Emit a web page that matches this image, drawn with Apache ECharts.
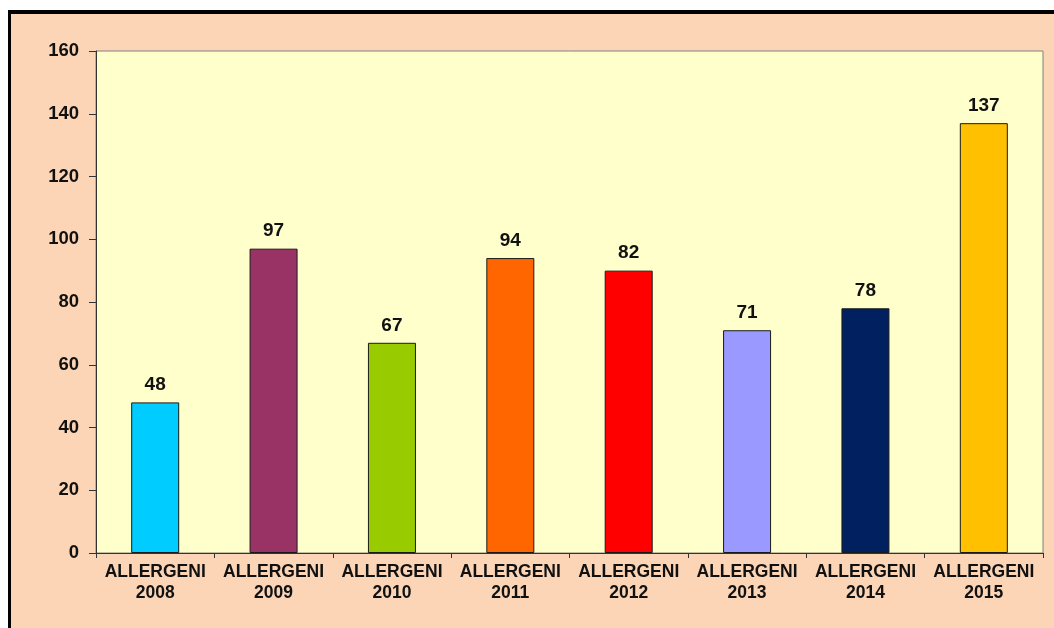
<!DOCTYPE html>
<html>
<head>
<meta charset="utf-8">
<script src="https://cdn.jsdelivr.net/npm/echarts@6/dist/echarts.min.js"></script>
<style>
    html, body { margin: 0; padding: 0; background: #fff; }
    .frame {
        position: absolute; left: 8px; top: 10px; width: 1046px; height: 618px;
        background: #FBD5B6; border-top: 4px solid #000; border-left: 3px solid #000;
        box-sizing: border-box;
    }
    #chart { position: absolute; left: 0; top: 0; width: 1054px; height: 628px; }
</style>
</head>
<body>
<div class="frame"></div>
<div id="chart"></div>
<script>
// categorie e valori
const categories = ['ALLERGENI\n2008', 'ALLERGENI\n2009', 'ALLERGENI\n2010', 'ALLERGENI\n2011',
    'ALLERGENI\n2012', 'ALLERGENI\n2013', 'ALLERGENI\n2014', 'ALLERGENI\n2015']
// altezza delle barre come disegnate
const values = [48, 97, 67, 94, 90, 71, 78, 137]
// etichette stampate sopra le barre
const valueLabels = [48, 97, 67, 94, 82, 71, 78, 137]
const barColors = ['#00CCFF', '#993366', '#99CC00', '#FF6600', '#FF0000', '#9999FF', '#002060', '#FFC000']
const yTicks = [0, 20, 40, 60, 80, 100, 120, 140, 160]

const chart = echarts.init(document.getElementById('chart'))

const option = {
    animation: false,
    textStyle: { fontFamily: 'Liberation Sans, Arial, sans-serif' },
    grid: {
        left: 96,
        top: 51,
        right: 11,
        bottom: 75,
        show: true,
        backgroundColor: '#FFFFCC',
        borderColor: '#808080',
        borderWidth: 1
    },
    xAxis: {
        type: 'category',
        data: categories,
        axisLine: { lineStyle: { color: '#333', width: 1 } },
        axisTick: { show: true, length: 5, lineStyle: { color: '#333' } },
        axisLabel: {
            color: '#111',
            fontWeight: 'bold',
            fontSize: 17.5,
            lineHeight: 20.5,
            margin: 9,
            interval: 0
        }
    },
    yAxis: {
        type: 'value',
        min: yTicks[0],
        max: yTicks[yTicks.length - 1],
        interval: 20,
        axisLine: { show: true, lineStyle: { color: '#333', width: 1 } },
        axisTick: { show: true, length: 7, lineStyle: { color: '#333' } },
        splitLine: { show: false },
        axisLabel: {
            color: '#111',
            fontWeight: 'bold',
            fontSize: 18.5,
            margin: 17
        }
    },
    series: [
        {
            type: 'bar',
            barWidth: 48,
            data: values.map((v, i) => ({
                value: v,
                itemStyle: { color: barColors[i] }
            })),
            itemStyle: { borderColor: '#1a1a1a', borderWidth: 1 },
            label: {
                show: true,
                position: 'top',
                distance: 8,
                color: '#111',
                fontWeight: 'bold',
                fontSize: 19,
                formatter: p => valueLabels[p.dataIndex]
            }
        }
    ]
}

chart.setOption(option)
</script>
</body>
</html>
